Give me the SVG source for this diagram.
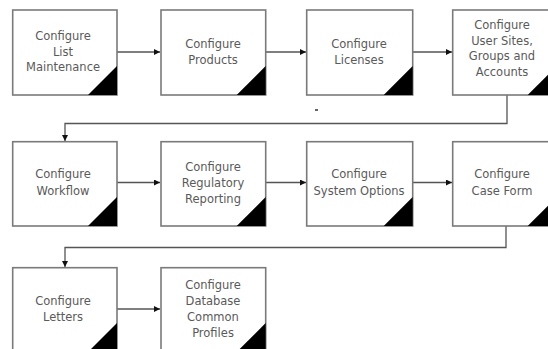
<svg xmlns="http://www.w3.org/2000/svg" width="548" height="349" viewBox="0 0 548 349">
<style>
.box{fill:#fff;stroke:#7a7a7a;stroke-width:1.6}
.tri{fill:#000}
.lbl{font-family:"DejaVu Sans","Liberation Sans",sans-serif;font-size:11.5px;fill:#5a5a5a;text-anchor:middle}
.con{fill:none;stroke:#555;stroke-width:1.3}
</style>
<defs>
<marker id="ah" markerWidth="6" markerHeight="6" refX="6" refY="3" orient="auto" markerUnits="userSpaceOnUse">
<path d="M0,0 L6,3 L0,6 Z" fill="#111"/>
</marker>
</defs>
<rect width="548" height="349" fill="#fff"/>
<g id="connectors">
<path class="con" d="M117,52 H160" marker-end="url(#ah)"/>
<path class="con" d="M266,52 H306" marker-end="url(#ah)"/>
<path class="con" d="M413,52 H452" marker-end="url(#ah)"/>
<path class="con" d="M507,95 V123.5 H65 V141" marker-end="url(#ah)"/>
<path class="con" d="M117,182.5 H160" marker-end="url(#ah)"/>
<path class="con" d="M266,182.5 H306" marker-end="url(#ah)"/>
<path class="con" d="M413,182.5 H452" marker-end="url(#ah)"/>
<path class="con" d="M506,226 V247.5 H65 V267" marker-end="url(#ah)"/>
<path class="con" d="M117,309 H160" marker-end="url(#ah)"/>
<path d="M315,110 H318" stroke="#333" stroke-width="1.5"/>
</g>
<g id="n1">
<rect class="box" x="12.7" y="10" width="104.3" height="85"/>
<path class="tri" d="M117,66 V95 H88 Z"/>
<text class="lbl"><tspan x="63" y="40">Configure</tspan><tspan x="63" y="55.5">List</tspan><tspan x="63" y="71">Maintenance</tspan></text>
</g>
<g id="n2">
<rect class="box" x="161" y="10" width="104.7" height="85"/>
<path class="tri" d="M265.7,66 V95 H236.7 Z"/>
<text class="lbl"><tspan x="213" y="47.5">Configure</tspan><tspan x="213" y="63.5">Products</tspan></text>
</g>
<g id="n3">
<rect class="box" x="306.7" y="10" width="106" height="85"/>
<path class="tri" d="M412.7,66 V95 H383.7 Z"/>
<text class="lbl"><tspan x="359" y="47.5">Configure</tspan><tspan x="359" y="63.5">Licenses</tspan></text>
</g>
<g id="n4">
<rect class="box" x="452.7" y="10" width="104" height="85"/>
<path class="tri" d="M556.7,66 V95 H527.7 Z"/>
<text class="lbl"><tspan x="502" y="29">Configure</tspan><tspan x="502" y="44.5">User Sites,</tspan><tspan x="502" y="60">Groups and</tspan><tspan x="502" y="75.5">Accounts</tspan></text>
</g>
<g id="n5">
<rect class="box" x="12.7" y="141.7" width="104.3" height="84.3"/>
<path class="tri" d="M117,197 V226 H88 Z"/>
<text class="lbl"><tspan x="63" y="177.5">Configure</tspan><tspan x="63" y="194.5">Workflow</tspan></text>
</g>
<g id="n6">
<rect class="box" x="161" y="141.7" width="104.7" height="84.3"/>
<path class="tri" d="M265.7,197 V226 H236.7 Z"/>
<text class="lbl"><tspan x="213" y="170.5">Configure</tspan><tspan x="213" y="186.5">Regulatory</tspan><tspan x="213" y="202.5">Reporting</tspan></text>
</g>
<g id="n7">
<rect class="box" x="306.7" y="141.7" width="106" height="84.3"/>
<path class="tri" d="M412.7,197 V226 H383.7 Z"/>
<text class="lbl"><tspan x="359" y="177.5">Configure</tspan><tspan x="359" y="194.5">System Options</tspan></text>
</g>
<g id="n8">
<rect class="box" x="452.7" y="141.7" width="104" height="84.3"/>
<path class="tri" d="M556.7,197 V226 H527.7 Z"/>
<text class="lbl"><tspan x="502" y="177.5">Configure</tspan><tspan x="502" y="194.5">Case Form</tspan></text>
</g>
<g id="n9">
<rect class="box" x="12.7" y="267.7" width="104.3" height="85"/>
<path class="tri" d="M117,323 V352 H88 Z"/>
<text class="lbl"><tspan x="63" y="305">Configure</tspan><tspan x="63" y="321">Letters</tspan></text>
</g>
<g id="n10">
<rect class="box" x="161" y="267.7" width="104.7" height="85"/>
<path class="tri" d="M265.7,323 V352 H236.7 Z"/>
<text class="lbl"><tspan x="213" y="289">Configure</tspan><tspan x="213" y="305">Database</tspan><tspan x="213" y="321">Common</tspan><tspan x="213" y="337">Profiles</tspan></text>
</g>
</svg>
